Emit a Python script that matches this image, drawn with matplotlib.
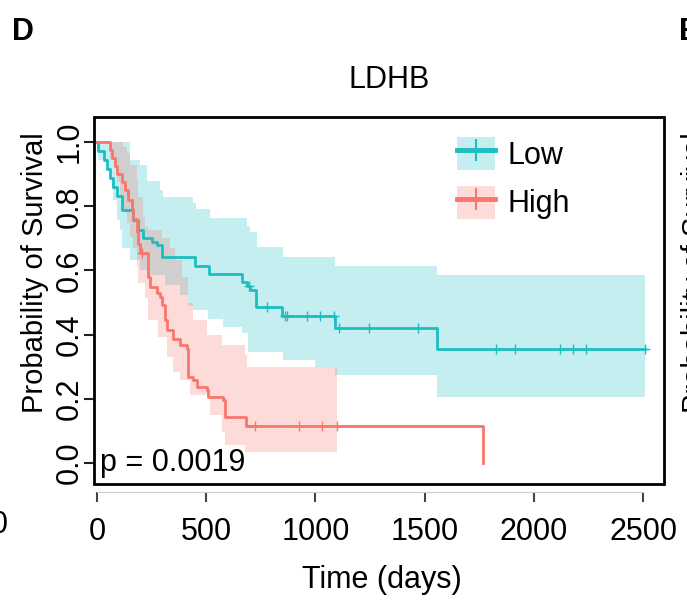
import numpy as np
import matplotlib
matplotlib.use('Agg')
import matplotlib.pyplot as plt
from matplotlib.patches import Patch, Rectangle
from matplotlib.lines import Line2D
from matplotlib.legend_handler import HandlerTuple

plt.rcParams['font.family'] = ['Liberation Sans', 'DejaVu Sans']

# --- Kaplan-Meier steps (time in days, survival prob) ---
low_t = [0, 5, 30, 45, 60, 75, 90, 113, 166, 188, 211, 250, 273, 296, 449, 513,
         665, 685, 700, 727, 848, 1090, 1555]
low_s = [1.0, .972, .944, .917, .889, .861, .833, .788, .757, .726, .70, .69,
         .679, .643, .614, .589, .563, .553, .539, .487, .458, .42, .355]
low_end = 2509
low_cens = [696, 777, 861, 871, 960, 1021, 1085, 1109, 1247, 1471, 1826, 1914,
            2120, 2181, 2238, 2509]

high_t = [0, 60, 67, 82, 90, 113, 128, 143, 159, 166, 182, 189, 197, 235, 243,
          273, 288, 296, 311, 319, 349, 380, 411, 418, 441, 456, 502, 510, 578,
          586, 680, 1769]
high_s = [1.0, .975, .95, .925, .90, .875, .85, .82, .79, .76, .72, .684, .653,
          .58, .549, .529, .518, .492, .445, .414, .388, .368, .357, .269, .259,
          .238, .228, .207, .197, .144, .116, 0.0]
high_cens = [205, 723, 926, 1029, 1098]

# confidence bands
low_up_t = [0, 151, 197, 228, 288, 300, 441, 455, 517, 685, 700, 731, 853, 1088, 1555]
low_up = [1.0, .944, .928, .88, .85, .83, .81, .79, .763, .74, .72, .674, .643, .615, .586]
low_lo_t = [0, 5, 52, 67, 75, 90, 105, 113, 151, 197, 243, 311, 380, 417, 440,
            510, 577, 663, 690, 850, 1000, 1090, 1555]
low_lo = [1.0, .944, .913, .85, .82, .757, .726, .669, .632, .60, .586, .555,
          .523, .49, .477, .45, .425, .404, .347, .32, .30, .274, .207]

high_up_t = [0, 119, 135, 151, 182, 189, 212, 220, 235, 296, 334, 357, 388, 418,
             441, 502, 571, 678, 685]
high_up = [1.0, .985, .965, .928, .88, .83, .767, .736, .726, .70, .669, .632,
           .58, .50, .445, .40, .368, .336, .30]
high_lo_t = [0, 60, 82, 90, 105, 120, 136, 151, 166, 182, 189, 220, 235, 281,
             319, 349, 380, 426, 517, 571, 586, 678]
high_lo = [1.0, .944, .918, .876, .83, .788, .747, .705, .669, .611, .56, .513,
           .445, .393, .331, .284, .259, .212, .15, .098, .056, .035]
high_band_end = 1098

p_text = 'p = 0.0019'
x_ticks = [0, 500, 1000, 1500, 2000, 2500]
y_ticks = [0.0, 0.2, 0.4, 0.6, 0.8, 1.0]

TEAL = '#1CBEC2'
RED = '#F8766D'


def step_at(ts, vs, grid):
    idx = np.searchsorted(ts, grid, side='right') - 1
    return np.asarray(vs)[idx]


def draw_band(ax, up_t, up, lo_t, lo, end, color):
    grid = np.unique(np.concatenate([up_t, lo_t, [end]]))
    grid = grid[grid <= end]
    hi = step_at(up_t, up, grid)
    low = step_at(lo_t, lo, grid)
    ax.fill_between(grid, low, hi, step='post', color=color, alpha=0.26, lw=0)


fig = plt.figure(figsize=(6.87, 6.06), dpi=100)
ax = fig.add_axes([94/687, 1-484/606, (664-94)/687, (484-117)/606])

draw_band(ax, low_up_t, low_up, low_lo_t, low_lo, low_end, TEAL)
draw_band(ax, high_up_t, high_up, high_lo_t, high_lo, high_band_end, RED)

ax.step(low_t + [low_end], low_s + [low_s[-1]], where='post', color=TEAL, lw=2.0)
ax.step(high_t, high_s, where='post', color=RED, lw=2.0)

ax.plot(low_cens, step_at(low_t, low_s, low_cens), ls='none', marker='+',
        ms=7, mew=1.0, color=TEAL)
ax.plot(high_cens, step_at(high_t, high_s, high_cens), ls='none', marker='+',
        ms=7, mew=1.0, color=RED)

ax.set_xlim(-14, 2596)
ax.set_ylim(-0.065, 1.078)

# box around the plot, x axis detached below it
for side in ['top', 'right', 'left']:
    ax.spines[side].set_visible(False)
ax.add_patch(Rectangle((0, 0), 1, 1, transform=ax.transAxes, fill=False,
                       lw=2.0, ec='black', clip_on=False, zorder=5))
ax.spines['bottom'].set_position(('outward', 6))
ax.spines['bottom'].set_bounds(0, 2500)
ax.spines['bottom'].set_color('#cccccc')
ax.spines['bottom'].set_linewidth(0.8)

ax.set_xticks(x_ticks)
ax.set_xticklabels([str(v) for v in x_ticks])
ax.tick_params(axis='x', direction='out', length=7, width=1.5, color='#444444',
               labelsize=22, pad=11)
ax.set_yticks(y_ticks)
ax.set_yticklabels(['%.1f' % v for v in y_ticks], rotation=90, va='center')
ax.tick_params(axis='y', direction='out', length=7, width=1.5, color='#222222',
               labelsize=22, pad=0)

ax.text(15, 0.0, p_text, fontsize=22, va='center', ha='left')

leg_handles = [
    (Patch(facecolor=TEAL, alpha=0.26, lw=0),
     Line2D([], [], color=TEAL, lw=3.5, marker='+', ms=16, mew=1.5)),
    (Patch(facecolor=RED, alpha=0.26, lw=0),
     Line2D([], [], color=RED, lw=3.5, marker='+', ms=16, mew=1.5)),
]
fig.legend(leg_handles, ['Low', 'High'], loc='upper left',
           bbox_to_anchor=(457/687, 1-137/606), frameon=False, fontsize=22,
           handler_map={tuple: HandlerTuple(ndivide=1, pad=0)},
           handlelength=1.24, handleheight=1.3, handletextpad=0.4,
           labelspacing=0.48, borderpad=0, borderaxespad=0)

fig.text(389/687, 1-80/606, 'LDHB', fontsize=22, ha='center', va='center')
fig.text(382/687, 1-580/606, 'Time (days)', fontsize=22, ha='center', va='center')
fig.text(35/687, 1-273/606, 'Probability of Survival', fontsize=21,
         rotation=90, ha='center', va='center')

# panel letters and slivers of the neighbouring panels
fig.text(12/687, 1-32/606, 'D', fontsize=22, weight='bold', va='center')
fig.text(679/687, 1-32/606, 'E', fontsize=22, weight='bold', va='center')
fig.text(9/687, 1-525/606, '2500', fontsize=22, ha='right', va='center')
fig.text(681/687, 1-273/606, 'Probability of Survival', fontsize=21,
         rotation=90, ha='left', va='center')

fig.savefig('out.png', dpi=100)
